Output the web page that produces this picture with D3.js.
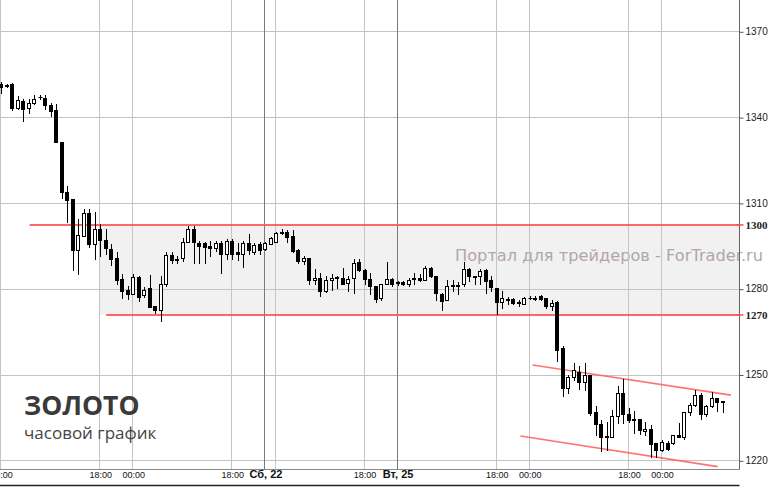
<!DOCTYPE html>
<html><head><meta charset="utf-8">
<script src="https://cdn.jsdelivr.net/npm/d3@7"></script>
<style>html,body{margin:0;padding:0;background:#fff;} svg{display:block;}</style>
</head><body>
<svg id="chart" width="770" height="488"></svg>
<script>
// ---- data (hourly candles, index 0..131) ----
const opens  = [1351.4,1351.2,1351.7,1343.3,1345.7,1343.2,1345.0,1347.2,1346.7,1344.1,
1342.6,1331.3,1313.7,1311.3,1293.5,1298.5,1306.4,1295.8,1301.0,1296.9,
1294.0,1290.9,1283.5,1279.4,1278.2,1284.2,1277.7,1280.1,1273.9,1272.5,
1281.8,1291.7,1290.4,1290.9,1296.4,1301.0,1296.1,1296.1,1295.0,1294.4,
1295.9,1292.0,1296.6,1292.8,1292.0,1295.9,1292.7,1295.5,1293.8,1295.8,
1296.4,1299.8,1299.9,1298.5,1293.5,1289.7,1290.8,1283.0,1283.8,1279.1,
1282.9,1284.0,1283.8,1282.1,1283.8,1289.3,1286.5,1283.5,1281.1,1276.8,
1281.5,1283.5,1282.2,1282.3,1281.8,1283.6,1283.8,1283.2,1287.3,1284.6,
1278.3,1276.2,1281.2,1281.2,1281.5,1286.8,1284.4,1284.4,1286.4,1283.0,
1280.3,1275.3,1276.3,1276.5,1275.2,1274.8,1276.9,1276.9,1277.4,1276.6,
1273.9,1275.3,1259.2,1245.2,1249.3,1250.7,1247.5,1249.9,1236.8,1232.7,
1228.5,1228.2,1235.5,1243.5,1236.2,1234.4,1234.3,1230.3,1231.1,1225.9,
1223.5,1226.1,1226.1,1228.8,1228.0,1237.0,1239.3,1242.8,1236.1,1239.0,
1241.7,1240.6];
const highs  = [1352.3,1351.6,1352.0,1347.4,1346.2,1346.5,1347.9,1347.9,1347.6,1345.0,
1344.7,1331.3,1315.8,1311.3,1304.3,1308.0,1307.8,1306.9,1302.6,1300.8,
1295.5,1292.8,1285.0,1281.1,1285.3,1284.4,1280.7,1284.9,1273.9,1284.4,
1292.8,1292.8,1291.4,1297.9,1302.0,1302.0,1296.7,1296.4,1296.7,1296.7,
1296.7,1297.3,1297.3,1296.1,1296.7,1299.0,1296.1,1296.4,1296.4,1298.2,
1299.9,1301.0,1300.6,1300.6,1294.0,1291.4,1290.8,1287.0,1285.6,1284.6,
1285.0,1284.4,1287.3,1284.4,1290.5,1290.3,1286.8,1285.4,1281.1,1281.8,
1289.4,1283.8,1282.6,1282.8,1283.8,1285.6,1285.0,1287.9,1287.7,1284.6,
1278.6,1283.0,1283.2,1282.3,1289.3,1287.2,1284.6,1286.8,1286.8,1284.4,
1280.3,1279.1,1277.1,1276.9,1276.2,1277.1,1277.4,1277.3,1277.8,1276.9,
1276.2,1275.6,1259.8,1249.9,1254.0,1253.0,1254.0,1249.9,1239.0,1234.1,
1233.5,1237.6,1246.1,1248.3,1238.2,1237.4,1234.3,1233.5,1232.3,1225.9,
1227.0,1226.8,1229.0,1232.9,1237.0,1239.9,1244.6,1243.4,1239.3,1244.0,
1241.7,1240.8];
const lows   = [1348.6,1350.5,1342.4,1343.0,1338.8,1341.5,1344.7,1346.3,1342.7,1340.4,
1331.3,1311.6,1303.4,1286.5,1285.1,1298.5,1294.7,1290.3,1291.4,1292.0,
1288.4,1281.5,1276.8,1276.5,1278.2,1275.6,1277.2,1273.5,1271.5,1268.6,
1280.9,1288.9,1289.1,1289.7,1296.4,1289.1,1289.1,1289.1,1291.4,1293.2,
1285.6,1290.3,1290.3,1290.0,1287.7,1292.0,1292.0,1292.3,1293.5,1295.5,
1296.4,1299.0,1296.4,1292.8,1288.9,1288.5,1281.5,1281.5,1277.4,1278.8,
1279.7,1280.3,1281.5,1279.1,1278.6,1286.2,1281.5,1278.0,1275.3,1276.2,
1281.5,1281.1,1281.2,1281.2,1280.9,1281.8,1282.6,1283.0,1284.2,1276.2,
1272.7,1276.0,1279.1,1278.0,1281.1,1282.6,1281.8,1281.8,1278.6,1279.1,
1271.0,1273.3,1274.8,1274.8,1273.9,1274.6,1276.5,1276.0,1276.2,1273.3,
1272.5,1254.6,1242.5,1243.4,1248.1,1245.0,1244.5,1235.8,1229.0,1223.3,
1223.5,1228.0,1232.9,1233.2,1233.5,1229.6,1229.2,1228.8,1221.2,1221.2,
1223.3,1223.6,1225.6,1228.0,1227.6,1235.8,1239.0,1234.6,1235.5,1238.7,
1237.3,1237.0];
const closes = [1350.6,1350.8,1343.2,1345.9,1342.7,1345.1,1346.5,1346.9,1344.1,1342.0,
1331.3,1313.7,1311.1,1293.5,1298.7,1306.4,1295.5,1300.8,1297.0,1294.4,
1290.3,1283.2,1279.1,1278.2,1284.2,1277.2,1279.7,1273.5,1272.5,1281.8,
1291.7,1290.0,1290.2,1296.4,1301.0,1296.4,1295.0,1294.7,1294.4,1295.9,
1292.0,1296.6,1292.3,1292.3,1296.1,1293.5,1295.2,1293.5,1296.1,1297.9,
1299.4,1299.4,1298.2,1293.2,1289.7,1290.8,1283.0,1283.8,1279.1,1283.0,
1283.8,1283.6,1281.8,1283.5,1289.1,1286.5,1283.5,1281.1,1276.5,1281.8,
1283.5,1281.5,1282.0,1281.8,1283.0,1283.4,1283.0,1287.3,1284.4,1278.6,
1275.6,1280.9,1281.0,1281.0,1286.8,1284.6,1284.0,1286.2,1282.7,1280.7,
1275.3,1276.8,1276.1,1275.0,1275.0,1276.8,1276.7,1276.5,1276.5,1273.9,
1275.0,1258.6,1245.2,1249.3,1251.6,1247.5,1249.9,1236.6,1232.7,1228.2,
1228.3,1235.5,1243.4,1236.2,1234.2,1234.2,1230.5,1231.1,1225.6,1223.5,
1226.5,1223.8,1228.8,1228.0,1237.0,1239.3,1242.8,1236.1,1239.0,1241.7,
1240.5,1240.3];

const priceTicks = [1220,1250,1280,1310,1340,1370];
const timeTickHours  = [0,18,24,42,48,50,66,72,90,96,114,120];
const timeTickLabels = ["00:00","18:00","00:00","18:00","Сб, 22","","18:00","Вт, 25","18:00","00:00","18:00","00:00"];
const dayTickHours = [48,72];
const levelValues = [1302.3,1270.8];
const levelLabels = ["1300","1270"];
const levelStartHours = [5.2,19.1];
const bandStartHour = 18;
const channelUpper = [[96.5,1253.3],[132.5,1242.8]];
const channelLower = [[94.3,1228.5],[130.1,1217.8]];
const titleText = "ЗОЛОТО";
const subtitleText = "часовой график";
const watermarkText = "Портал для трейдеров - ForTrader.ru";

// ---- drawing ----
const svg = d3.select("#chart");
const plotRight = 739.5, plotBottom = 469.5;
const x = d3.scaleLinear().domain([0,120]).range([1,662]);
const y = d3.scaleLinear().domain([1220,1370]).range([460.3,31.3]);
const snap = v => Math.round(v) + 0.5;

svg.append("rect").attr("width",770).attr("height",488).attr("fill","#fff");

// band
svg.append("rect")
  .attr("x", Math.round(x(bandStartHour)))
  .attr("y", y(levelValues[0]))
  .attr("width", plotRight - Math.round(x(bandStartHour)))
  .attr("height", y(levelValues[1]) - y(levelValues[0]))
  .attr("fill","#f1f1f1");

// watermark
svg.append("text").text(watermarkText)
  .attr("x",455).attr("y",261)
  .attr("font-family","DejaVu Sans, Verdana, sans-serif")
  .attr("font-size",15).attr("fill","#b3a6a6")
  .attr("textLength",308).attr("lengthAdjust","spacingAndGlyphs");

// grid
const grid = svg.append("g");
grid.selectAll("line.h").data(priceTicks).join("line")
  .attr("x1",0).attr("x2",plotRight)
  .attr("y1",d=>snap(y(d))).attr("y2",d=>snap(y(d)))
  .attr("stroke","#c4c4c4").attr("stroke-width",1);
grid.selectAll("line.v").data(timeTickHours).join("line")
  .attr("x1",d=>snap(x(d))-1).attr("x2",d=>snap(x(d))-1)
  .attr("y1",0).attr("y2",plotBottom)
  .attr("stroke",d=>dayTickHours.includes(d)?"#7a7a7a":"#c4c4c4").attr("stroke-width",1);

// level lines
svg.selectAll("line.level").data(levelValues).join("line")
  .attr("x1",(d,i)=>x(levelStartHours[i])).attr("x2",plotRight)
  .attr("y1",d=>y(d)).attr("y2",d=>y(d))
  .attr("stroke","#ff4d4d").attr("stroke-opacity",0.85).attr("stroke-width",2);

// channel lines
[channelUpper, channelLower].forEach(c => {
  svg.append("line")
    .attr("x1",x(c[0][0])).attr("y1",y(c[0][1]))
    .attr("x2",x(c[1][0])).attr("y2",y(c[1][1]))
    .attr("stroke","#ff5a5a").attr("stroke-opacity",0.85).attr("stroke-width",1.6);
});

// candles
const candles = svg.append("g");
opens.forEach((o,i) => {
  const c = closes[i], h = highs[i], l = lows[i];
  const cx = Math.round(x(i));
  candles.append("line")
    .attr("x1",cx+0.5).attr("x2",cx+0.5)
    .attr("y1",Math.round(y(h))).attr("y2",Math.round(y(l))+1)
    .attr("stroke","#000").attr("stroke-width",1);
  const top = Math.round(y(Math.max(o,c))), bot = Math.round(y(Math.min(o,c)));
  const up = c > o;
  if (bot - top < 1) {
    candles.append("line")
      .attr("x1",cx-1.5).attr("x2",cx+2.5)
      .attr("y1",top+0.5).attr("y2",top+0.5)
      .attr("stroke","#000").attr("stroke-width",1);
  } else {
    candles.append("rect")
      .attr("x",cx-1.5).attr("y",top+0.5)
      .attr("width",3).attr("height",bot-top)
      .attr("fill",up?"#fff":"#000").attr("stroke","#000").attr("stroke-width",1);
  }
});

// right axis
svg.append("line").attr("x1",plotRight).attr("x2",plotRight).attr("y1",0).attr("y2",plotBottom)
  .attr("stroke","#666").attr("stroke-width",1);
const yAxis = svg.append("g").attr("transform",`translate(${plotRight},0)`)
  .call(d3.axisRight(y).tickValues(priceTicks).tickSize(4).tickPadding(2).tickFormat(d3.format("d")));
yAxis.select(".domain").remove();
yAxis.selectAll(".tick line").attr("stroke","#555").attr("transform","translate(0,0.5)");
yAxis.selectAll(".tick text").attr("font-family","Liberation Sans, Arial, sans-serif")
  .attr("font-size",10).attr("fill","#222");

// level labels
const lvl = svg.append("g");
levelValues.forEach((v,i) => {
  lvl.append("line").attr("x1",plotRight-3).attr("x2",plotRight+4)
    .attr("y1",y(v)).attr("y2",y(v)).attr("stroke","#ff4d4d").attr("stroke-width",1.5);
  lvl.append("text").text(levelLabels[i]).attr("x",plotRight+6).attr("y",y(v)).attr("dy","0.35em")
    .attr("font-family","Liberation Serif, Times New Roman, serif").attr("font-weight","bold")
    .attr("font-size",11).attr("fill","#222");
});

// bottom axis
svg.append("line").attr("x1",0).attr("x2",plotRight).attr("y1",plotBottom).attr("y2",plotBottom)
  .attr("stroke","#888").attr("stroke-width",1);
svg.append("line").attr("x1",0).attr("x2",plotRight).attr("y1",485.5).attr("y2",485.5)
  .attr("stroke","#222").attr("stroke-width",1.5);
const xAxis = svg.append("g").attr("transform",`translate(0,${plotBottom})`)
  .call(d3.axisBottom(x).tickValues(timeTickHours).tickSize(0).tickPadding(0)
    .tickFormat((d,i)=>timeTickLabels[i]));
xAxis.select(".domain").remove();
xAxis.selectAll(".tick text")
  .attr("y",8.5).attr("dy",0)
  .attr("font-family","Liberation Sans, Arial, sans-serif")
  .attr("font-size",d=>dayTickHours.includes(d)?11:9)
  .attr("font-weight",d=>dayTickHours.includes(d)?"bold":"normal")
  .attr("fill","#111");

// title
svg.append("text").text(titleText).attr("x",24).attr("y",415)
  .attr("font-family","Open Sans, sans-serif").attr("font-weight","bold")
  .attr("font-size",26.5).attr("fill","#3a3a3a");
svg.append("text").text(subtitleText).attr("x",24).attr("y",438.5)
  .attr("font-family","Open Sans, sans-serif")
  .attr("font-size",17).attr("fill","#444");
</script>
</body></html>
